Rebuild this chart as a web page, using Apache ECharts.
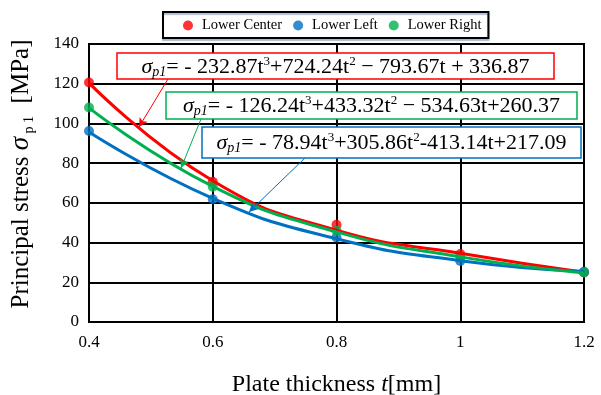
<!DOCTYPE html>
<html><head><meta charset="utf-8">
<script src="https://cdn.jsdelivr.net/npm/echarts@6/dist/echarts.min.js"></script>
<style>html,body{margin:0;padding:0;background:#fff}#c{width:601px;height:395px}</style>
</head><body><div id="c"></div>
<script>
// ---- data ----
const thickness = [0.4, 0.6, 0.8, 1.0, 1.2];
const seriesNames = ['Lower Center', 'Lower Left', 'Lower Right'];
const lowerCenter = [120.6, 70.6, 49.0, 34.2, 25.0];
const lowerLeft   = [96.2, 61.8, 42.6, 30.7, 25.3];
const lowerRight  = [108.0, 68.1, 46.0, 32.8, 24.9];
// trend-line heights at each thickness
const centerTrend = [120.4, 71.1, 46.2, 34.6, 25.0];
const leftTrend   = [95.7, 62.3, 41.9, 30.9, 25.4];
const rightTrend  = [107.8, 68.3, 45.4, 32.8, 24.7];
const xTickLabels = ['0.4', '0.6', '0.8', '1', '1.2'];
const yTickLabels = ['0', '20', '40', '60', '80', '100', '120', '140'];
// equation labels, in series order (center, left, right)
const equations = [
  ['232.87', '724.24', ' \u2212 793.67t + 336.87'],
  ['78.94', '305.86', '-413.14t+217.09'],
  ['126.24', '433.32', ' \u2212 534.63t+260.37']
];
// arrow annotations (data coords), in series order: [startT, startS, endT, endS]
const arrowsData = [
  [0.5277, 122.4, 0.4808, 98.2],
  [0.7490, 82.6, 0.6586, 55.4],
  [0.5810, 102.2, 0.5487, 77.5]
];

const colors = ['#FF0000', '#0070C0', '#00B050'];
const pts = [lowerCenter, lowerLeft, lowerRight];
const trends = [centerTrend, leftTrend, rightTrend];
const serif = '"Liberation Serif", "DejaVu Serif", serif';

const chart = echarts.init(document.getElementById('c'), null, {renderer: 'canvas'});

const series = [];
pts.forEach((arr, i) => {
  series.push({
    name: seriesNames[i], type: 'scatter', symbol: 'circle', symbolSize: 10,
    itemStyle: {color: colors[i]}, z: 3,
    data: thickness.map((t, k) => [t, arr[k]])
  });
});
trends.forEach((arr, i) => {
  series.push({
    name: seriesNames[i] + ' trend', type: 'line', smooth: true, showSymbol: false,
    lineStyle: {color: colors[i], width: 3}, z: 4, silent: true,
    data: thickness.map((t, k) => [t, arr[k]]),
    markLine: {
      silent: true, symbol: ['none', 'arrow'], symbolSize: [7, 9],
      label: {show: false},
      lineStyle: {color: colors[i], width: 1, type: 'solid'},
      data: [[{coord: [arrowsData[i][0], arrowsData[i][1]]}, {coord: [arrowsData[i][2], arrowsData[i][3]]}]]
    }
  });
});

// box layout for each equation, series order (center, left, right)
const boxes = [
  {x: 117, y: 53, w: 437, h: 26},
  {x: 202, y: 127, w: 379, h: 31},
  {x: 166, y: 92, w: 411, h: 27}
];
const eqGraphics = boxes.map((b, i) => {
  const e = equations[i];
  return {
    type: 'group', z: 100, zlevel: 1,
    children: [
      {type: 'rect', z: 100, zlevel: 1, shape: {x: b.x, y: b.y, width: b.w, height: b.h},
       style: {fill: '#fff', stroke: colors[i], lineWidth: 1.5}},
      {type: 'text', z: 101, zlevel: 1, x: b.x + b.w / 2, y: b.y + b.h / 2 + 1,
       style: {
         text: '{s|\u03c3}{b|p1}{n|= - ' + e[0] + 't}{p|3}{n|+' + e[1] + 't}{p|2}{n|' + e[2] + '}',
         align: 'center', verticalAlign: 'middle',
         rich: {
           n: {fontFamily: serif, fontSize: 22, fill: '#000', lineHeight: 24},
           s: {fontFamily: serif, fontSize: 22, fontStyle: 'italic', fill: '#000', lineHeight: 24},
           b: {fontFamily: serif, fontSize: 14, fontStyle: 'italic', fill: '#000', verticalAlign: 'bottom', lineHeight: 24},
           p: {fontFamily: serif, fontSize: 13, fill: '#000', verticalAlign: 'top', lineHeight: 24}
         }
       }}
    ]
  };
});

chart.setOption({
  animation: false,
  backgroundColor: '#fff',
  grid: {left: 89, right: 17, top: 44, bottom: 73, show: true, borderColor: '#000', borderWidth: 2,
         backgroundColor: 'transparent', containLabel: false, outerBoundsMode: 'none'},
  legend: {
    data: seriesNames.map(n => ({name: n, icon: 'circle'})),
    left: 163, top: 12, itemWidth: 10, itemHeight: 10, itemGap: 11,
    padding: [6, 7, 5, 20],
    borderColor: '#000', borderWidth: 2, backgroundColor: '#fff',
    shadowColor: 'rgba(140,160,190,0.7)', shadowOffsetY: 2, shadowBlur: 1,
    textStyle: {fontFamily: serif, fontSize: 14.5, color: '#000', padding: [0, 0, 0, 4]}
  },
  xAxis: {
    type: 'value', min: 0.4, max: 1.2, interval: 0.2,
    name: '{n|Plate thickness }{i|t}{n|[mm]}', nameLocation: 'middle', nameGap: 51,
    nameTextStyle: {rich: {
      n: {fontFamily: serif, fontSize: 24, color: '#000'},
      i: {fontFamily: serif, fontSize: 24, fontStyle: 'italic', color: '#000'}
    }},
    axisLine: {show: true, lineStyle: {color: '#000', width: 2}},
    axisTick: {show: false},
    splitLine: {show: true, lineStyle: {color: '#000', width: 2}},
    axisLabel: {fontFamily: serif, fontSize: 17, color: '#000', margin: 12,
      formatter: v => { const k = Math.round((v - 0.4) / 0.2); return xTickLabels[k] || ''; }}
  },
  yAxis: {
    type: 'value', min: 0, max: 140, interval: 20,
    name: '{n|Principal stress }{s|\u03c3}{b| p 1}{n|  [MPa]}', nameLocation: 'middle', nameGap: 53, nameRotate: 90,
    nameTextStyle: {padding: [0, 0, 0, 18], rich: {
      n: {fontFamily: serif, fontSize: 25, color: '#000', lineHeight: 30},
      s: {fontFamily: serif, fontSize: 27, fontStyle: 'italic', color: '#000', lineHeight: 30},
      b: {fontFamily: serif, fontSize: 14, color: '#000', verticalAlign: 'bottom', lineHeight: 30}
    }},
    axisLine: {show: true, lineStyle: {color: '#000', width: 2}},
    axisTick: {show: false},
    splitLine: {show: true, lineStyle: {color: '#000', width: 2}},
    axisLabel: {fontFamily: serif, fontSize: 17, color: '#000', margin: 10,
      formatter: v => yTickLabels[Math.round(v / 20)] || ''}
  },
  series: series,
  graphic: eqGraphics
});
</script></body></html>
